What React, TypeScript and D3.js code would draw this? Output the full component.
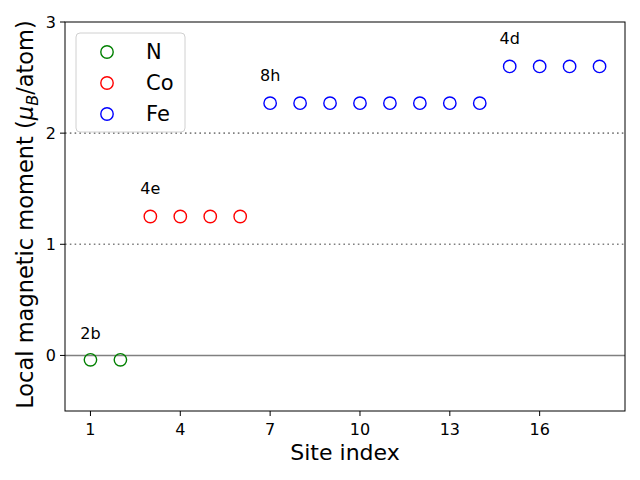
import * as d3 from "d3";

const nSites = [1, 2];
const nMoments = [-0.04, -0.04];
const coSites = [3, 4, 5, 6];
const coMoments = [1.25, 1.25, 1.25, 1.25];
const feSites = [7, 8, 9, 10, 11, 12, 13, 14, 15, 16, 17, 18];
const feMoments = [2.27, 2.27, 2.27, 2.27, 2.27, 2.27, 2.27, 2.27, 2.6, 2.6, 2.6, 2.6];
const xTicks = [1, 4, 7, 10, 13, 16];
const yTicks = [0, 1, 2, 3];
const wyckoff = [
  { label: "2b", x: 1, y: 0.15 },
  { label: "4e", x: 3, y: 1.45 },
  { label: "8h", x: 7, y: 2.47 },
  { label: "4d", x: 15, y: 2.8 },
];

const series = [
  { name: "N", color: "green", sites: nSites, values: nMoments },
  { name: "Co", color: "red", sites: coSites, values: coMoments },
  { name: "Fe", color: "blue", sites: feSites, values: feMoments },
];

const W = 640;
const H = 480;
const M = { top: 22, right: 15, bottom: 69, left: 65 };

export default function App() {
  const x = d3.scaleLinear().domain([0.15, 18.85]).range([M.left, W - M.right]);
  const y = d3.scaleLinear().domain([-0.5, 3]).range([H - M.bottom, M.top]);
  const font = "DejaVu Sans, sans-serif";

  return (
    <svg
      width={W}
      height={H}
      style={{ position: "absolute", left: 0, top: 0, background: "white" }}
      fontFamily={font}
    >
      {/* reference lines */}
      <line x1={x.range()[0]} x2={x.range()[1]} y1={y(0)} y2={y(0)} stroke="gray" strokeWidth={1.5} />
      {[1, 2].map((v) => (
        <line
          key={v}
          x1={x.range()[0]}
          x2={x.range()[1]}
          y1={y(v)}
          y2={y(v)}
          stroke="gray"
          strokeWidth={1.6}
          strokeDasharray="1.6,3.2"
        />
      ))}

      {series.map((s) =>
        s.sites.map((site, i) => (
          <circle
            key={s.name + site}
            cx={x(site)}
            cy={y(s.values[i])}
            r={6.2}
            fill="none"
            stroke={s.color}
            strokeWidth={1.4}
          />
        ))
      )}

      {wyckoff.map((w) => (
        <text key={w.label} x={x(w.x)} y={y(w.y)} fontSize={16} textAnchor="middle">
          {w.label}
        </text>
      ))}

      {/* frame */}
      <rect
        x={M.left}
        y={M.top}
        width={W - M.left - M.right}
        height={H - M.top - M.bottom}
        fill="none"
        stroke="black"
        strokeWidth={1}
      />

      {xTicks.map((t) => (
        <g key={t} transform={`translate(${x(t)},${H - M.bottom})`}>
          <line y2={5} stroke="black" />
          <text y={24} fontSize={16} textAnchor="middle">
            {t}
          </text>
        </g>
      ))}
      {yTicks.map((t) => (
        <g key={t} transform={`translate(${M.left},${y(t)})`}>
          <line x2={-5} stroke="black" />
          <text x={-9} dy="0.35em" fontSize={16} textAnchor="end">
            {t}
          </text>
        </g>
      ))}

      <text x={(M.left + W - M.right) / 2} y={460} fontSize={22} textAnchor="middle">
        Site index
      </text>
      <text
        transform={`translate(33,${(M.top + H - M.bottom) / 2 - 2}) rotate(-90)`}
        fontSize={22.5}
        textAnchor="middle"
      >
        Local magnetic moment (<tspan fontStyle="italic">μ</tspan>
        <tspan fontSize={16} dy={5} fontStyle="italic">B</tspan>
        <tspan dy={-5}>/atom)</tspan>
      </text>

      {/* legend */}
      <g transform="translate(76,33)">
        <rect width={109} height={99} rx={4} fill="white" fillOpacity={0.8} stroke="#d0d0d0" />
        {series.map((s, i) => (
          <g key={s.name} transform={`translate(0,${19 + i * 31})`}>
            <circle cx={31} cy={0} r={6.2} fill="none" stroke={s.color} strokeWidth={1.4} />
            <text x={70} dy="0.35em" fontSize={21}>
              {s.name}
            </text>
          </g>
        ))}
      </g>
    </svg>
  );
}
